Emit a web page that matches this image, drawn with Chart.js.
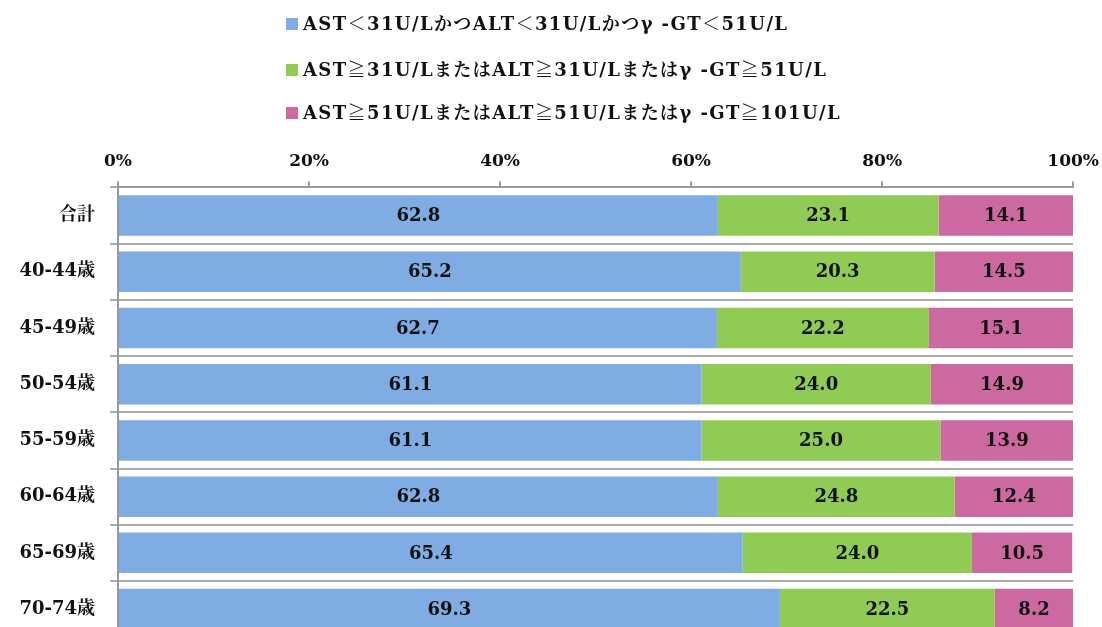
<!DOCTYPE html>
<html lang="ja">
<head>
<meta charset="utf-8">
<script src="https://cdn.jsdelivr.net/npm/chart.js@4.4.1/dist/chart.umd.min.js"></script>
<style>
  html, body { margin: 0; padding: 0; background: #fff; overflow: hidden; }
  canvas { display: block; }
</style>
</head>
<body>
<canvas id="chart" width="1109" height="663"></canvas>
<script>
// categories and values (%)
const categories = ['合計', '40-44歳', '45-49歳', '50-54歳', '55-59歳', '60-64歳', '65-69歳', '70-74歳'];
const normal = [62.8, 65.2, 62.7, 61.1, 61.1, 62.8, 65.4, 69.3];
const mild = [23.1, 20.3, 22.2, 24.0, 25.0, 24.8, 24.0, 22.5];
const high = [14.1, 14.5, 15.1, 14.9, 13.9, 12.4, 10.5, 8.2];
const seriesNames = [
  'AST＜31U/LかつALT＜31U/Lかつγ -GT＜51U/L',
  'AST≧31U/LまたはALT≧31U/Lまたはγ -GT≧51U/L',
  'AST≧51U/LまたはALT≧51U/Lまたはγ -GT≧101U/L'
];
const xTicks = [0, 20, 40, 60, 80, 100];

const colors = ['#7facE2', '#8fcb55', '#cd69a1'];
const FONT = "'DejaVu Serif', 'Noto Serif CJK JP', 'Noto Sans CJK JP', serif";

// value labels in the middle of each segment
const barLabels = {
  id: 'barLabels',
  afterDatasetsDraw(chart) {
    const ctx = chart.ctx;
    ctx.save();
    ctx.font = 'bold 18px ' + FONT;
    ctx.fillStyle = '#111';
    ctx.textAlign = 'center';
    ctx.textBaseline = 'middle';
    chart.data.datasets.forEach((ds, i) => {
      chart.getDatasetMeta(i).data.forEach((bar, j) => {
        ctx.fillText(ds.data[j].toFixed(1), (bar.x + bar.base) / 2, bar.y + 1);
      });
    });
    ctx.restore();
  }
};

// stacked legend, left aligned, one row per series
const stackedLegend = {
  id: 'stackedLegend',
  afterDraw(chart) {
    const ctx = chart.ctx;
    const rows = [24, 70, 113];
    ctx.save();
    ctx.font = 'bold 18px ' + FONT;
    ctx.letterSpacing = '1.4px';
    ctx.textBaseline = 'middle';
    chart.data.datasets.forEach((ds, i) => {
      ctx.fillStyle = ds.backgroundColor;
      ctx.fillRect(286, rows[i] - 6, 12, 12);
      ctx.fillStyle = '#111';
      ctx.fillText(ds.label, 303, rows[i] + 1);
    });
    ctx.restore();
  }
};

new Chart(document.getElementById('chart'), {
  type: 'bar',
  data: {
    labels: categories,
    datasets: [
      { label: seriesNames[0], data: normal, backgroundColor: colors[0] },
      { label: seriesNames[1], data: mild, backgroundColor: colors[1] },
      { label: seriesNames[2], data: high, backgroundColor: colors[2] }
    ]
  },
  options: {
    indexAxis: 'y',
    responsive: false,
    animation: false,
    barPercentage: 0.72,
    categoryPercentage: 1,
    layout: { padding: { top: 141, right: 29, bottom: 4, left: 0 } },
    plugins: {
      legend: { display: false },
      tooltip: { enabled: false }
    },
    scales: {
      x: {
        position: 'top',
        stacked: true,
        min: 0,
        max: 100,
        afterBuildTicks: (scale) => {
          scale.ticks = xTicks.map(v => ({ value: v }));
        },
        ticks: {
          padding: 10,
          color: '#111',
          font: { family: FONT, size: 17, weight: 'bold' },
          callback: (v) => v + '%'
        },
        grid: { drawOnChartArea: false, tickLength: 6, color: '#999', lineWidth: 2 },
        border: { color: '#999', width: 2 }
      },
      y: {
        stacked: true,
        afterFit: (scale) => { scale.width = 118; },
        ticks: {
          padding: 15,
          color: '#111',
          font: { family: FONT, size: 18, weight: 'bold' }
        },
        grid: { offset: true, tickLength: 8, color: '#aaa', lineWidth: 2 },
        border: { color: '#999', width: 2 }
      }
    }
  },
  plugins: [barLabels, stackedLegend]
});
</script>
</body>
</html>
